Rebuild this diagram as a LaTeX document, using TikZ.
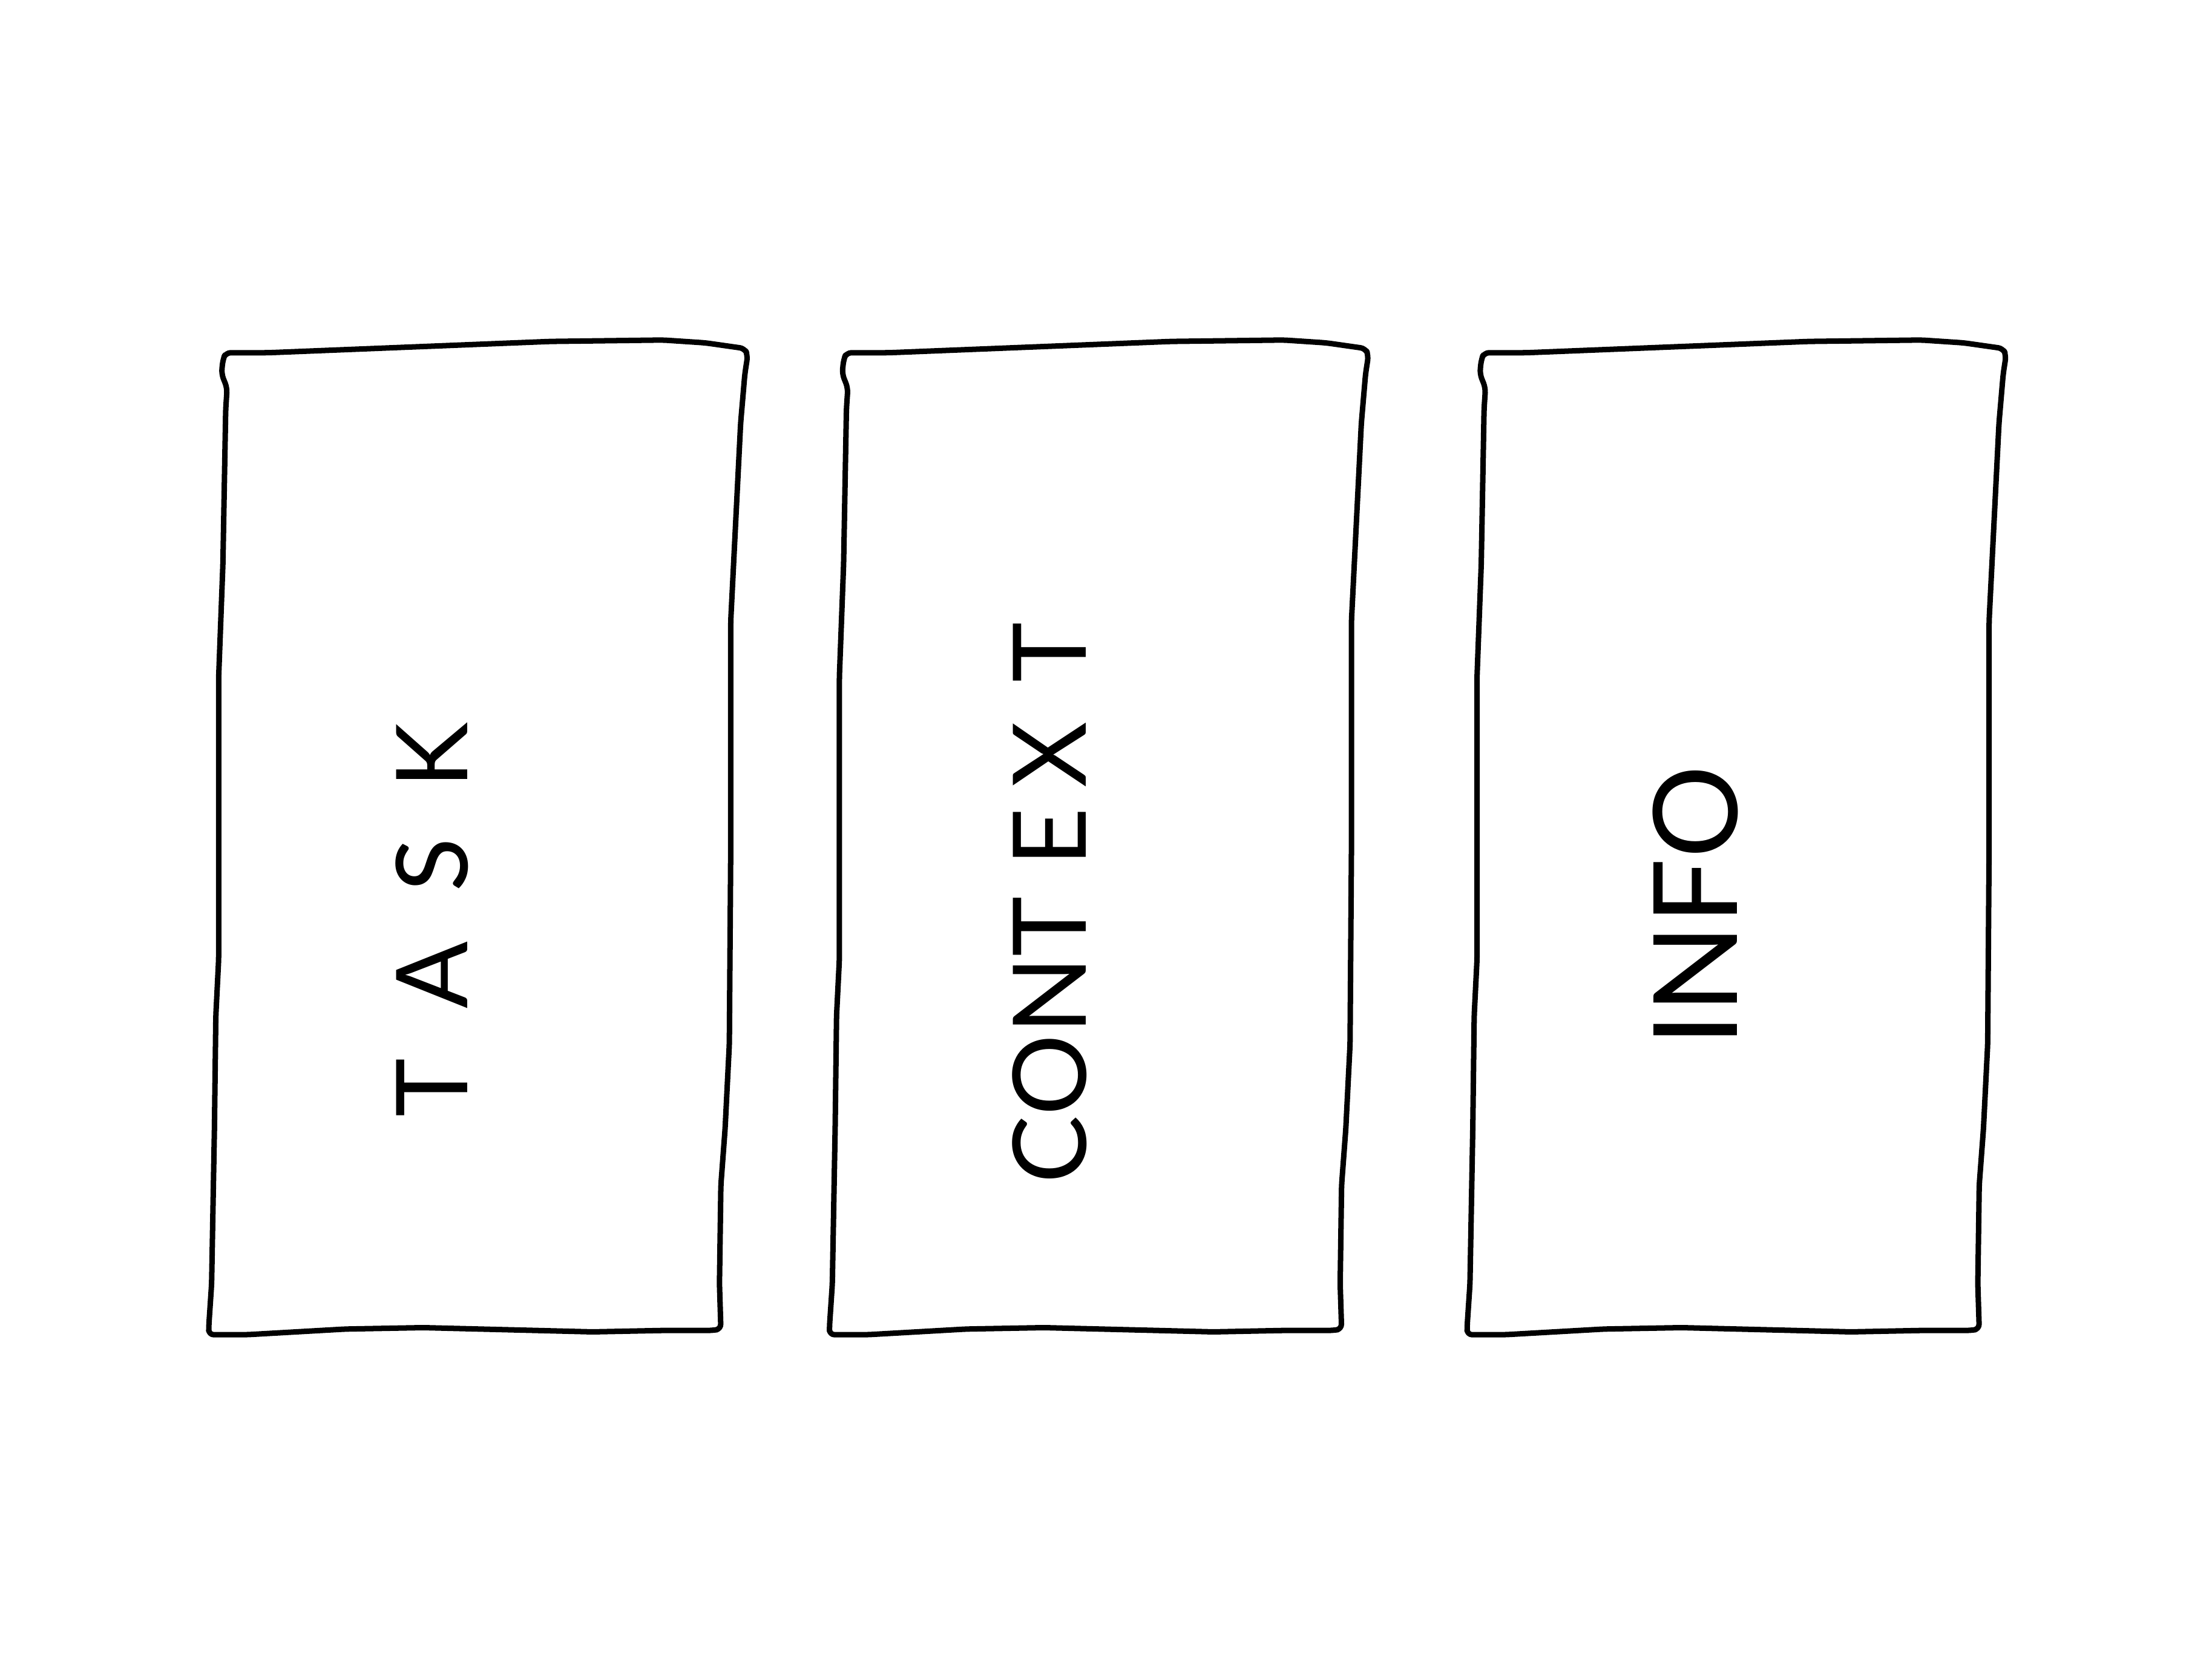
\documentclass[tikz,border=0pt]{standalone}
\usepackage{fontspec}
\setmainfont{Lato}
\usepackage{tikz}

\tikzset{
  pics/sketchbox/.style={code={
    \draw[line width=1.1pt, line join=round, rounded corners=1pt]
      (160,250) -- (190,250) -- (240,248) -- (390,242) -- (470,241) -- (500,243)
      -- (528,247) -- (530,252) -- (528,265) -- (525,300) -- (520,400) -- (518,440)
      -- (518,600) -- (517,740) -- (514,800) -- (511,840) -- (510,910) -- (511,942)
      -- (505,943) -- (470,943) -- (420,944) -- (300,941) -- (245,942) -- (175,946)
      -- (148,946) -- (148,940) -- (150,910) -- (152,800) -- (153,720) -- (155,680)
      -- (155,480) -- (158,400) -- (160,290) -- (161,275) -- (157,265) -- (158,255)
      -- cycle;
  }},
  word/.style={rotate=90, inner sep=0pt}
}

\begin{document}
\begin{tikzpicture}[x=0.01cm, y=-0.01cm]
  \useasboundingbox (0,0) rectangle (1568,1190);
  \pic at (0,0) {sketchbox};
  \pic at (440,0) {sketchbox};
  \pic at (892,0) {sketchbox};
  \node[word, font=\fontsize{20}{24}\selectfont] (task) at (306,652)
    {T\hspace{10pt}A\hspace{10pt}S\hspace{10pt}K};
  \node[word, font=\fontsize{20.5}{24}\selectfont] (context) at (744,640)
    {C\hspace{0pt}O\hspace{0pt}N\hspace{0pt}T\hspace{6pt}E\hspace{4pt}X\hspace{8pt}T};
  \node[word, font=\fontsize{23.5}{28}\selectfont] (info) at (1202,642)
    {I\hspace{0pt}N\hspace{0pt}F\hspace{0pt}O};
\end{tikzpicture}
\end{document}
